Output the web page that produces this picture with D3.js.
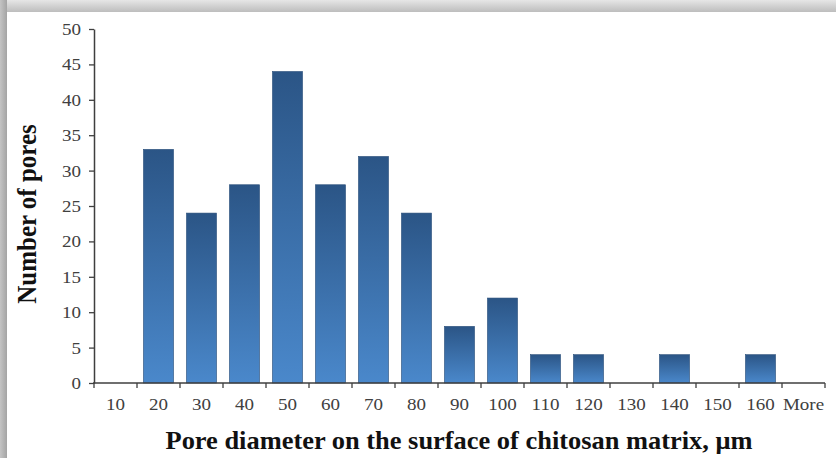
<!DOCTYPE html>
<html>
<head>
<meta charset="utf-8">
<script src="https://cdn.jsdelivr.net/npm/d3@7"></script>
<style>
  html, body { margin: 0; padding: 0; background: #fff; }
  svg { display: block; }
</style>
</head>
<body>
<svg id="chart" width="836" height="458"></svg>
<script>
// Pore size histogram data
const categories = ["10", "20", "30", "40", "50", "60", "70", "80", "90", "100", "110", "120", "130", "140", "150", "160", "More"];
const counts = [0, 33, 24, 28, 44, 28, 32, 24, 8, 12, 4, 4, 0, 4, 0, 4, 0];
const yTicks = [0, 5, 10, 15, 20, 25, 30, 35, 40, 45, 50];

const W = 836, H = 458;
const margin = { left: 94, right: 10, top: 29, bottom: 75 };
const svg = d3.select("#chart");
const defs = svg.append("defs");
const stretch = 1.12; // text is set slightly wide

// Frame shading around the white panel
const topGrad = defs.append("linearGradient").attr("id", "topShade").attr("x1", 0).attr("y1", 0).attr("x2", 0).attr("y2", 1);
topGrad.append("stop").attr("offset", "0%").attr("stop-color", "#e6e6e6");
topGrad.append("stop").attr("offset", "100%").attr("stop-color", "#bdbdbd");
const leftGrad = defs.append("linearGradient").attr("id", "leftShade").attr("x1", 0).attr("y1", 0).attr("x2", 1).attr("y2", 0);
leftGrad.append("stop").attr("offset", "0%").attr("stop-color", "#c4c4c4");
leftGrad.append("stop").attr("offset", "100%").attr("stop-color", "#a4a4a4");

svg.append("rect").attr("x", 0).attr("y", 0).attr("width", W).attr("height", 12).attr("fill", "url(#topShade)");
svg.append("rect").attr("x", 0).attr("y", 0).attr("width", 7).attr("height", H).attr("fill", "url(#leftShade)");
svg.append("rect").attr("x", 7).attr("y", 12).attr("width", W - 7).attr("height", H - 12).attr("fill", "#fff");

// Bar fill gradient: darker top, lighter bottom
const barGrad = defs.append("linearGradient").attr("id", "barFill").attr("x1", 0).attr("y1", 0).attr("x2", 0).attr("y2", 1);
barGrad.append("stop").attr("offset", "0%").attr("stop-color", "#2b5586");
barGrad.append("stop").attr("offset", "100%").attr("stop-color", "#4a88cb");

const x = d3.scaleBand()
  .domain(categories)
  .range([margin.left, 825])
  .paddingInner(0.3)
  .paddingOuter(0.15);

const y = d3.scaleLinear()
  .domain([0, 50])
  .range([383, margin.top]);

const axisColor = "#3f3f3f";
const serif = "'Liberation Serif', 'Times New Roman', serif";

// Bars
svg.append("g").selectAll("rect")
  .data(categories.map((c, i) => ({ c, v: counts[i] })).filter(d => d.v > 0))
  .join("rect")
  .attr("x", d => x(d.c))
  .attr("y", d => y(d.v))
  .attr("width", x.bandwidth())
  .attr("height", d => y(0) - y(d.v))
  .attr("fill", "url(#barFill)")
  .attr("stroke", "#2a4f7a")
  .attr("stroke-width", 0.6);

// Y axis
const yAxis = svg.append("g")
  .attr("transform", `translate(${margin.left},0)`)
  .call(d3.axisLeft(y).tickValues(yTicks).tickSize(5).tickPadding(0).tickSizeOuter(0));
yAxis.select(".domain").attr("stroke", axisColor).attr("stroke-width", 1.5);
yAxis.selectAll(".tick line").attr("stroke", axisColor).attr("stroke-width", 1.3);
yAxis.selectAll(".tick text")
  .attr("x", null)
  .attr("transform", `translate(-13,0) scale(${stretch},1)`)
  .attr("fill", "#404040")
  .style("font-family", serif)
  .style("font-size", "17px");

// X axis: labels centred in bands, tick marks on band boundaries
const x0 = margin.left, x1 = 825;
const xAxis = svg.append("g").attr("transform", `translate(0,${y(0)})`);
xAxis.append("line")
  .attr("x1", x0 - 1).attr("x2", x1)
  .attr("stroke", axisColor).attr("stroke-width", 1.5);
const bounds = d3.range(categories.length + 1).map(i => x0 + (x1 - x0) * i / categories.length);
xAxis.selectAll("line.tk").data(bounds).join("line")
  .attr("class", "tk")
  .attr("x1", d => d).attr("x2", d => d)
  .attr("y1", 0).attr("y2", 5)
  .attr("stroke", axisColor).attr("stroke-width", 1.3);
xAxis.selectAll("text").data(categories).join("text")
  .attr("transform", d => `translate(${x(d) + x.bandwidth() / 2},27) scale(${stretch},1)`)
  .attr("text-anchor", "middle")
  .attr("fill", "#404040")
  .style("font-family", serif)
  .style("font-size", "17px")
  .text(d => d);

// Axis titles
svg.append("text")
  .attr("x", 459)
  .attr("y", 449)
  .attr("text-anchor", "middle")
  .attr("textLength", 587)
  .attr("lengthAdjust", "spacingAndGlyphs")
  .attr("fill", "#111")
  .style("font-family", serif)
  .style("font-weight", "bold")
  .style("font-size", "25px")
  .text("Pore diameter on the surface of chitosan matrix, μm");

svg.append("text")
  .attr("transform", `translate(36,214) scale(${stretch},1) rotate(-90)`)
  .attr("text-anchor", "middle")
  .attr("fill", "#111")
  .style("font-family", serif)
  .style("font-weight", "bold")
  .style("font-size", "25px")
  .text("Number of pores");
</script>
</body>
</html>
